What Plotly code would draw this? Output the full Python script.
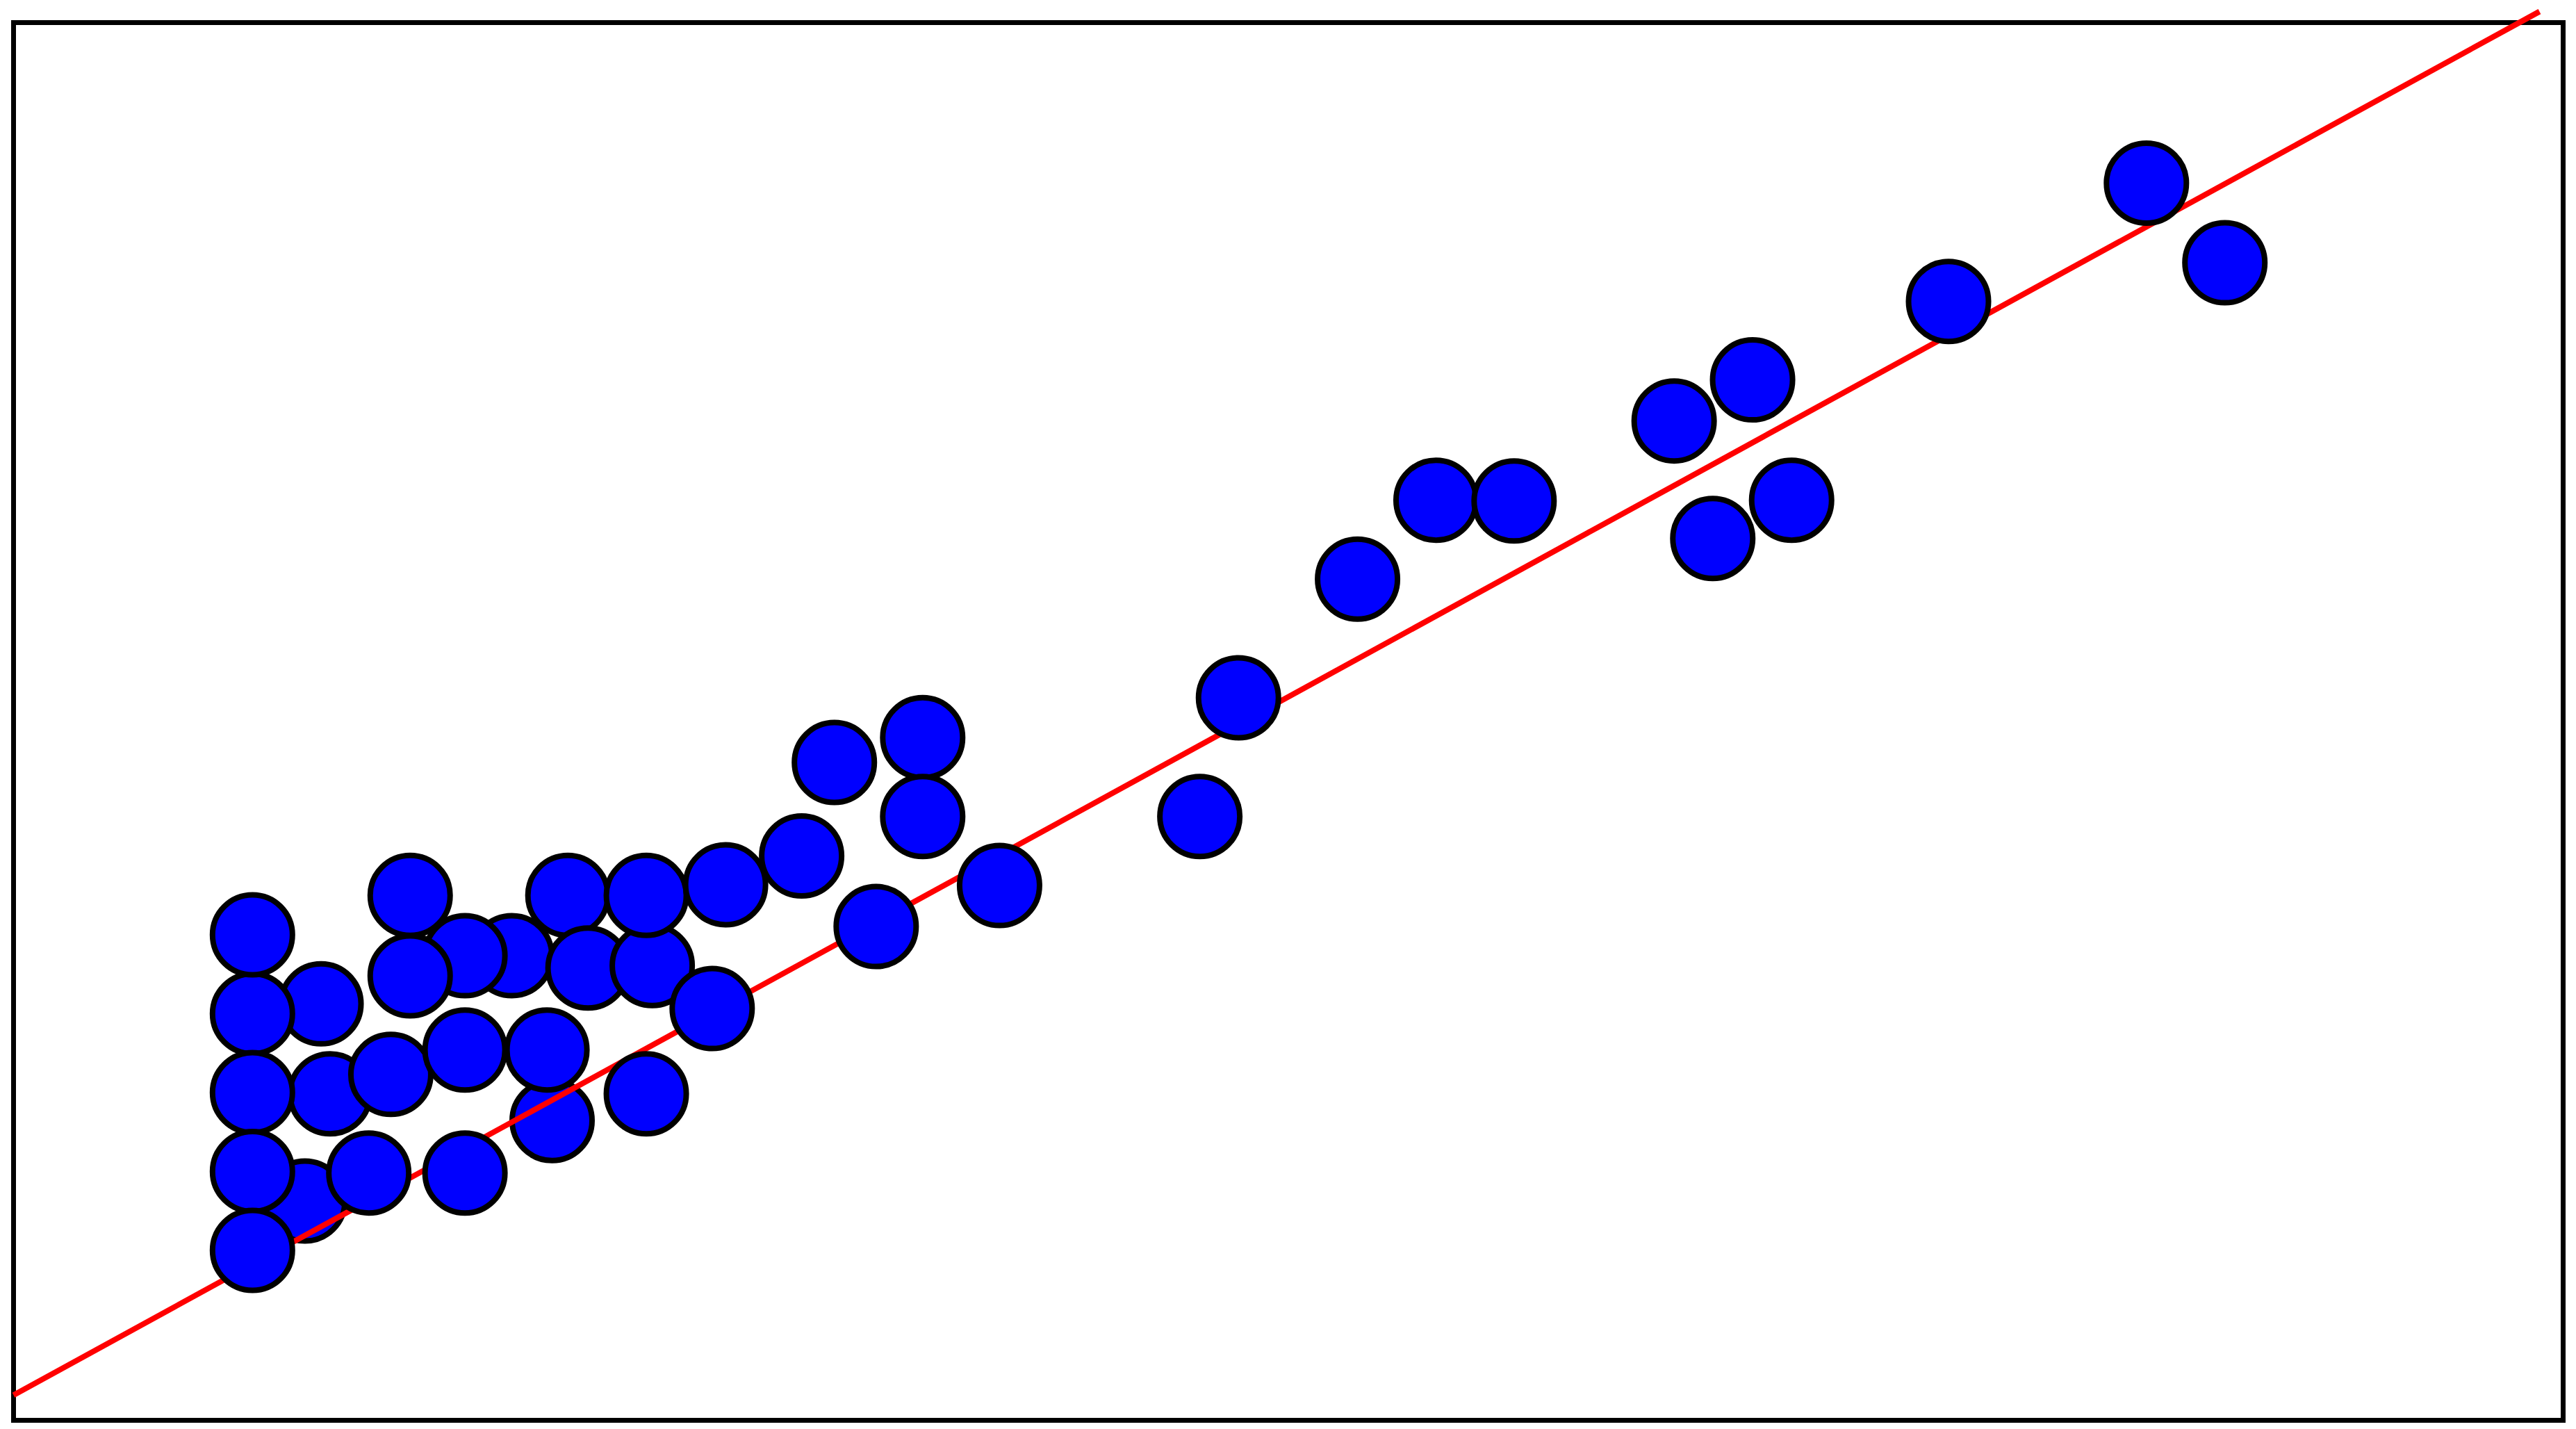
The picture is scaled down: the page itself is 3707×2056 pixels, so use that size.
import plotly.graph_objects as go

# Scatter points (drawn above the fitted line)
x_pts = [7.74, 6.0, 6.0, 7.97, 6.0, 6.0, 8.95, 6.0, 9.51, 11.39, 11.39, 13.47, 15.99,
         12.58, 11.39, 10.0, 10.0, 14.0, 14.51, 16.14, 15.99, 17.66, 18.0, 19.93,
         20.76, 23.0, 23.0, 21.82, 24.95, 30.03, 31.01, 34.03, 36.02, 38.0,
         42.06, 44.05, 43.04, 45.04, 49.02, 54.04, 56.03]
y_pts = [10.25, 10.0, 12.0, 7.97, 8.0, 6.0, 5.96, 4.0, 8.46, 9.08, 5.96, 9.08, 7.97,
         11.47, 11.47, 10.96, 13.0, 13.0, 11.16, 11.22, 13.0, 10.13, 13.27, 14.0,
         16.37, 17.0, 15.0, 12.21, 13.25, 15.0, 18.01, 21.02, 23.02, 23.0,
         25.03, 26.07, 22.05, 23.02, 28.06, 31.06, 29.04]

# Points that sit beneath the fitted line
x_under = [7.33, 13.6]
y_under = [5.25, 7.29]

# Fitted line endpoints
line_x = [-0.06, 64.01]
line_y = [0.33, 35.41]

# Axes frame (data units)
frame_x = [-0.06, 64.61]
frame_y = [-0.31, 35.13]
x_range = [-0.4037, 64.936]
y_range = [-0.53, 35.703]

marker_style = dict(size=115, color="#0000ff", line=dict(color="#000000", width=8))

fig = go.Figure()
fig.add_trace(go.Scatter(x=x_under, y=y_under, mode="markers", marker=marker_style,
                         showlegend=False, hoverinfo="skip", cliponaxis=False))
fig.add_trace(go.Scatter(x=line_x, y=line_y, mode="lines",
                         line=dict(color="#ff0000", width=8),
                         showlegend=False, hoverinfo="skip", cliponaxis=False))
fig.add_trace(go.Scatter(x=x_pts, y=y_pts, mode="markers", marker=marker_style,
                         showlegend=False, hoverinfo="skip", cliponaxis=False))

fig.add_shape(type="rect", xref="x", yref="y",
              x0=frame_x[0], x1=frame_x[1], y0=frame_y[0], y1=frame_y[1],
              line=dict(color="#000000", width=7), layer="below")

fig.update_layout(
    width=3707, height=2056,
    margin=dict(l=0, r=0, t=0, b=0, pad=0),
    paper_bgcolor="white", plot_bgcolor="white",
    xaxis=dict(range=x_range, visible=False, fixedrange=True),
    yaxis=dict(range=y_range, visible=False, fixedrange=True),
    showlegend=False,
)

fig.write_html("out.html",
               config={"displayModeBar": False},
               post_script="document.body.style.margin='0';document.body.style.overflow='hidden';")
